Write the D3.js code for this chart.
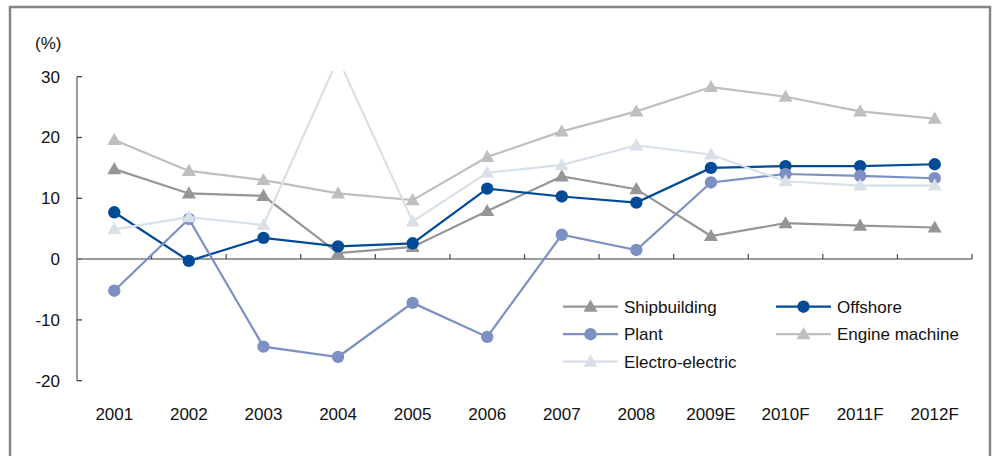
<!DOCTYPE html>
<html>
<head>
<meta charset="utf-8">
<script src="https://cdn.jsdelivr.net/npm/d3@7"></script>
<style>
  html, body { margin: 0; padding: 0; background: #fff; }
  svg { display: block; }
  text { font-family: "Liberation Sans", Arial, sans-serif; fill: #111; }
</style>
</head>
<body>
<svg id="chart" width="994" height="456"></svg>
<script>
// Annual growth rates (%) by industry segment
const years = ["2001", "2002", "2003", "2004", "2005", "2006", "2007", "2008", "2009E", "2010F", "2011F", "2012F"];
const shipbuilding   = [14.8, 10.8, 10.4, 1.0, 2.0, 7.9, 13.6, 11.5, 3.8, 5.9, 5.5, 5.2];
const offshore       = [7.7, -0.3, 3.5, 2.1, 2.6, 11.6, 10.3, 9.3, 15.0, 15.3, 15.3, 15.6];
const plant          = [-5.2, 6.6, -14.4, -16.1, -7.2, -12.8, 4.0, 1.5, 12.6, 14.0, 13.7, 13.3];
const engineMachine  = [19.6, 14.5, 13.0, 10.8, 9.7, 16.8, 21.0, 24.3, 28.3, 26.7, 24.3, 23.1];
const electroElectric = [4.9, 6.9, 5.6, 33.0, 6.2, 14.2, 15.5, 18.7, 17.2, 12.8, 12.1, 12.1];
const yTicks = [-20, -10, 0, 10, 20, 30];

const series = [
  { name: "Shipbuilding",     values: shipbuilding,    color: "#969696", marker: "triangle" },
  { name: "Offshore",         values: offshore,        color: "#004a97", marker: "circle" },
  { name: "Plant",            values: plant,           color: "#7d90c3", marker: "circle" },
  { name: "Engine machine",   values: engineMachine,   color: "#bfbfbf", marker: "triangle" },
  { name: "Electro-electric", values: electroElectric, color: "#d8e0e9", marker: "triangle" }
];

const FONT = "17px";
const svg = d3.select("#chart");

// outer frame
svg.append("rect")
  .attr("x", 10).attr("y", 7).attr("width", 980).attr("height", 460)
  .attr("fill", "none").attr("stroke", "#858585").attr("stroke-width", 2.5);

const left = 77, right = 972;
const x = d3.scaleBand().domain(years).range([left, right]);
const y = d3.scaleLinear().domain([-20, 30]).range([380.7, 76.7]);

// y axis: line, inward ticks, labels
const yAxis = svg.append("g").attr("transform", `translate(${left},0)`)
  .call(d3.axisLeft(y).tickValues(yTicks).tickSize(0).tickPadding(17).tickFormat(d => String(d)));
yAxis.select(".domain").remove();
yAxis.selectAll("text").style("font-size", FONT).attr("fill", "#111")
  .style("font-family", "'Liberation Sans', Arial, sans-serif");
yAxis.append("line").attr("x1", 0).attr("x2", 0).attr("y1", y(30)).attr("y2", y(-20))
  .attr("stroke", "#666").attr("stroke-width", 1.3);
yAxis.selectAll(".tickmark").data(yTicks).join("line")
  .attr("x1", 0).attr("x2", 5).attr("y1", d => y(d)).attr("y2", d => y(d))
  .attr("stroke", "#444").attr("stroke-width", 1.3);

svg.append("text").attr("x", 35).attr("y", 49).style("font-size", FONT).text("(%)");

// x axis along zero with upward ticks at category boundaries
const y0 = y(0);
svg.append("line").attr("x1", left).attr("x2", right).attr("y1", y0).attr("y2", y0)
  .attr("stroke", "#7a7a7a").attr("stroke-width", 1.5);
const bounds = years.slice(1).map(d => x(d)).concat([right]);
svg.selectAll(".xtick").data(bounds).join("line")
  .attr("x1", d => d).attr("x2", d => d).attr("y1", y0).attr("y2", y0 - 5)
  .attr("stroke", "#444").attr("stroke-width", 1.2);

svg.selectAll(".xlabel").data(years).join("text")
  .attr("x", d => x(d) + x.bandwidth() / 2).attr("y", 420)
  .attr("text-anchor", "middle").style("font-size", FONT).text(d => d);

// clip the plotting area
svg.append("clipPath").attr("id", "plotClip")
  .append("rect").attr("x", left).attr("y", 71).attr("width", right - left).attr("height", 330);

const cx = d => x(d) + x.bandwidth() / 2;
const tri = d3.symbol().type(d3.symbolTriangle).size(85);
const circ = d3.symbol().type(d3.symbolCircle).size(120);

const plot = svg.append("g").attr("clip-path", "url(#plotClip)");
const line = d3.line().x((d, i) => cx(years[i])).y(d => y(d));

series.forEach(s => {
  const g = plot.append("g");
  g.append("path").datum(s.values).attr("d", line)
    .attr("fill", "none").attr("stroke", s.color).attr("stroke-width", 2.2);
  g.selectAll("path.m").data(s.values).join("path").attr("class", "m")
    .attr("d", s.marker === "triangle" ? tri : circ)
    .attr("transform", (d, i) => `translate(${cx(years[i])},${y(d) + (s.marker === "triangle" ? 1 : 0)})`)
    .attr("fill", s.color);
});

// legend: two columns, filled row by row
const legendPos = [
  [563, 306.7], [776, 306.7],
  [563, 334.2], [776, 334.2],
  [563, 361.7]
];
const legendOrder = ["Shipbuilding", "Offshore", "Plant", "Engine machine", "Electro-electric"];
legendOrder.forEach((name, i) => {
  const s = series.find(t => t.name === name);
  const [lx, ly] = legendPos[i];
  const g = svg.append("g").attr("transform", `translate(${lx},${ly})`);
  g.append("line").attr("x1", 0).attr("x2", 55).attr("y1", 0).attr("y2", 0)
    .attr("stroke", s.color).attr("stroke-width", 2.2);
  g.append("path").attr("d", s.marker === "triangle" ? tri : circ)
    .attr("transform", `translate(27.5,${s.marker === "triangle" ? 1 : 0})`).attr("fill", s.color);
  g.append("text").attr("x", 61).attr("y", 6).style("font-size", FONT).text(name);
});
</script>
</body>
</html>
